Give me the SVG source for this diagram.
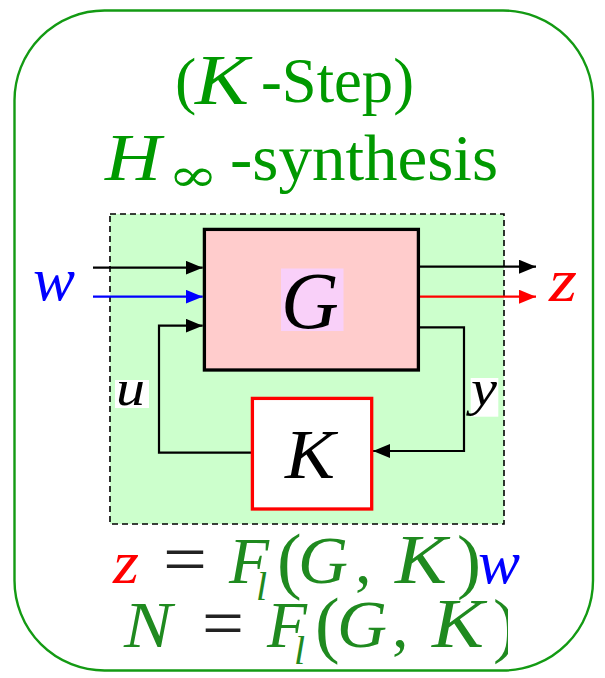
<svg xmlns="http://www.w3.org/2000/svg" width="605" height="678" viewBox="0 0 605 678">
<style>
.serif{font-family:"Liberation Serif","Times New Roman",serif}
.it{font-family:"Liberation Serif","Times New Roman",serif;font-style:italic}
.title{fill:#009900}
.eq{fill:#1f8a1f}
.conn{fill:none;stroke-width:2.2}
</style>
<defs>
<marker id="ab" markerUnits="userSpaceOnUse" markerWidth="18" markerHeight="15" refX="17" refY="7" orient="auto"><path d="M0,0 L17,7 L0,14 z" fill="#000"/></marker>
<marker id="abl" markerUnits="userSpaceOnUse" markerWidth="18" markerHeight="15" refX="17" refY="7" orient="auto"><path d="M0,0 L17,7 L0,14 z" fill="#0000ff"/></marker>
<marker id="ar" markerUnits="userSpaceOnUse" markerWidth="18" markerHeight="15" refX="17" refY="7" orient="auto"><path d="M0,0 L17,7 L0,14 z" fill="#ff0000"/></marker>
<clipPath id="clip2"><rect x="100" y="595" width="408" height="80"/></clipPath>
</defs>
<rect id="frame" x="14.5" y="10.5" width="578.5" height="660" rx="90" ry="90" fill="#fff" stroke="#139a13" stroke-width="2.4"/>
<g id="title" class="title">
<text class="serif" x="175" y="102" font-size="64">(</text>
<text class="it" x="195" y="104" font-size="72" textLength="54" lengthAdjust="spacingAndGlyphs">K</text>
<text class="serif" x="261" y="102" font-size="64" textLength="153" lengthAdjust="spacingAndGlyphs">-Step)</text>
<text class="it" x="105" y="180" font-size="68" textLength="56" lengthAdjust="spacingAndGlyphs">H</text>
<text style="font-family:'DejaVu Serif',serif" x="168" y="191" font-size="46" textLength="50" lengthAdjust="spacingAndGlyphs">∞</text>
<text class="serif" x="230" y="180" font-size="65" textLength="268" lengthAdjust="spacingAndGlyphs">-synthesis</text>
</g>
<g id="system">
<rect x="110" y="214" width="394" height="310" fill="#ccffcc" stroke="#000" stroke-width="1.6" stroke-dasharray="6,4"/>
</g>
<g id="connectors">
<path class="conn" stroke="#000" d="M93,267.7 H202.7" marker-end="url(#ab)"/>
<path class="conn" stroke="#0000ff" d="M93,296.7 H202.7" marker-end="url(#abl)"/>
<path class="conn" stroke="#000" d="M251,452.7 H159 V325.7 H202.7" marker-end="url(#ab)"/>
<path class="conn" stroke="#000" d="M420,266.7 H536" marker-end="url(#ab)"/>
<path class="conn" stroke="#ff0000" d="M420,296.7 H536" marker-end="url(#ar)"/>
<path class="conn" stroke="#000" d="M420,327.3 H464 V451 H373" marker-end="url(#ab)"/>
</g>
<g id="G">
<rect x="204.4" y="229.4" width="214" height="140.6" fill="#ffcccc" stroke="#000" stroke-width="3.3"/>
<rect x="281" y="268.5" width="62.5" height="62.5" fill="#f9d0f9"/>
<text class="it" x="310" y="328" font-size="80" text-anchor="middle" fill="#000">G</text>
</g>
<g id="K">
<rect x="252.4" y="398.4" width="119.3" height="110.6" fill="#fff" stroke="#ff0000" stroke-width="3.3"/>
<text class="it" x="285" y="478" font-size="70" fill="#000" textLength="50" lengthAdjust="spacingAndGlyphs">K</text>
</g>
<g id="label-w"><text class="it" x="33" y="300" font-size="62" fill="#0000ff" textLength="42" lengthAdjust="spacingAndGlyphs">w</text></g>
<g id="label-z"><text class="it" x="549" y="301" font-size="62" fill="#ff0000" textLength="28" lengthAdjust="spacingAndGlyphs">z</text></g>
<g id="label-u"><rect x="115" y="380" width="34" height="28" fill="#fff"/><text class="it" x="116" y="405" font-size="50" fill="#000" textLength="29" lengthAdjust="spacingAndGlyphs">u</text></g>
<g id="label-y"><rect x="470.7" y="378" width="27.6" height="38.7" fill="#fff"/><text class="it" x="471" y="405" font-size="50" fill="#000" textLength="26" lengthAdjust="spacingAndGlyphs">y</text></g>
<g id="eq1">
<text class="it" x="113" y="583" font-size="62" fill="#ff0000" textLength="26" lengthAdjust="spacingAndGlyphs">z</text>
<text class="serif" x="163" y="583" font-size="70" fill="#222" textLength="44" lengthAdjust="spacingAndGlyphs">=</text>
<text class="it eq" x="229" y="583" font-size="66" textLength="40" lengthAdjust="spacingAndGlyphs">F</text>
<text class="it eq" x="256" y="600" font-size="40">l</text>
<text class="serif eq" x="277" y="585" font-size="74">(</text>
<text class="it eq" x="298" y="583" font-size="68" textLength="50" lengthAdjust="spacingAndGlyphs">G</text>
<text class="serif eq" x="355" y="583" font-size="66">,</text>
<text class="it eq" x="395" y="583" font-size="70" textLength="52" lengthAdjust="spacingAndGlyphs">K</text>
<text class="serif eq" x="457" y="585" font-size="72">)</text>
<text class="it" x="478" y="583" font-size="62" fill="#0000ff" textLength="42" lengthAdjust="spacingAndGlyphs">w</text>
</g>
<g id="eq2" clip-path="url(#clip2)">
<text class="it eq" x="124" y="647" font-size="66" textLength="48" lengthAdjust="spacingAndGlyphs">N</text>
<text class="serif" x="202" y="647" font-size="70" fill="#222" textLength="42" lengthAdjust="spacingAndGlyphs">=</text>
<text class="it eq" x="267" y="647" font-size="66" textLength="40" lengthAdjust="spacingAndGlyphs">F</text>
<text class="it eq" x="294" y="664" font-size="40">l</text>
<text class="serif eq" x="315" y="649" font-size="74">(</text>
<text class="it eq" x="337" y="647" font-size="68" textLength="50" lengthAdjust="spacingAndGlyphs">G</text>
<text class="serif eq" x="392" y="647" font-size="66">,</text>
<text class="it eq" x="432" y="647" font-size="70" textLength="52" lengthAdjust="spacingAndGlyphs">K</text>
<text class="serif eq" x="493" y="649" font-size="72">)</text>
</g>
</svg>
